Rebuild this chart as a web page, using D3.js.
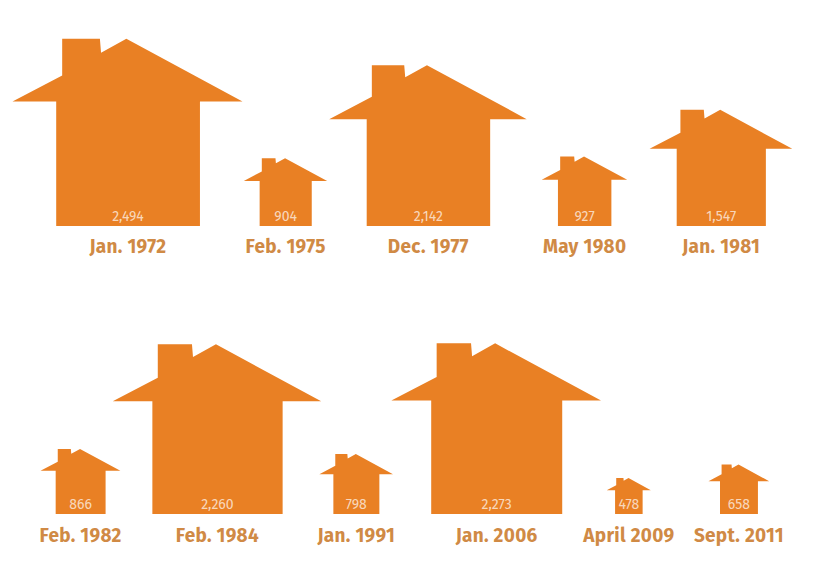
<!DOCTYPE html>
<html>
<head>
<meta charset="utf-8">
<script src="https://cdn.jsdelivr.net/npm/d3@7"></script>
<style>
  html, body { margin: 0; background: #fff; }
  svg { display: block; }
  text { font-family: "Fira Sans", "Open Sans", sans-serif; text-anchor: middle; }
</style>
</head>
<body>
<svg id="chart" width="826" height="571"></svg>
<script>
const topDates = ["Jan. 1972", "Feb. 1975", "Dec. 1977", "May 1980", "Jan. 1981"];
const topValues = [2494, 904, 2142, 927, 1547];
const bottomDates = ["Feb. 1982", "Feb. 1984", "Jan. 1991", "Jan. 2006", "April 2009", "Sept. 2011"];
const bottomValues = [866, 2260, 798, 2273, 478, 658];

// house outline, as fractions of the eave-to-eave width (y measured up from the floor)
const outline = [
  [0.19, 0], [0.19, 0.541], [0, 0.541], [0.216, 0.654], [0.216, 0.814],
  [0.38, 0.814], [0.385, 0.753], [0.495, 0.814], [1, 0.541], [0.815, 0.541], [0.815, 0]
];

const orange = "#e98024";
const width = d3.scaleLinear().domain([0, 2494]).range([0, 230]);
const fmt = d3.format(",");
const svg = d3.select("#chart");

// each row: where it starts, its floor, the space between neighbouring eaves, label drop
function drawRow(dates, values, left, floor, gaps, labelDrop) {
  let x = left;
  const rows = values.map((v, i) => {
    const d = { date: dates[i], value: v, w: width(v), x };
    x += d.w + (gaps[i] || 0);
    return d;
  });

  const house = svg.append("g").selectAll("g")
    .data(rows)
    .join("g")
    .attr("transform", (d) => `translate(${d.x},${floor})`);

  house.append("path")
    .attr("fill", orange)
    .attr("d", (d) => d3.line()
      .x((p) => p[0] * d.w)
      .y((p) => -p[1] * d.w)
      .curve(d3.curveLinearClosed)(outline));

  house.append("text")
    .attr("x", (d) => d.w * 0.502)
    .attr("y", -5)
    .attr("font-size", 14)
    .attr("fill", "#fff")
    .attr("fill-opacity", 0.7)
    .text((d) => fmt(d.value));

  house.append("text")
    .attr("x", (d) => d.w * 0.502)
    .attr("y", labelDrop)
    .attr("font-size", 19)
    .attr("font-weight", 700)
    .attr("letter-spacing", 0.3)
    .attr("fill", "#d08a45")
    .text((d) => d.date);
}

drawRow(topDates, topValues, 12.5, 226, [1.3, 2, 15, 22.4], 26.5);
drawRow(bottomDates, bottomValues, 40.5, 514, [-7.6, -1.8, -1.6, 5.7, 57.7], 28);
</script>
</body>
</html>
